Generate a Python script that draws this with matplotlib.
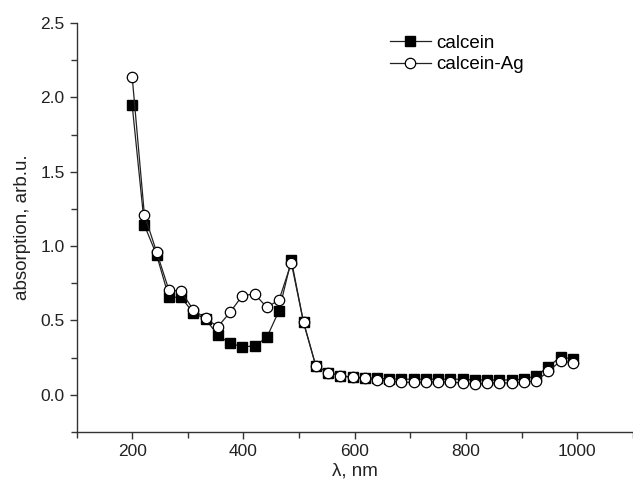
import matplotlib
matplotlib.use('Agg')
import matplotlib.pyplot as plt
from matplotlib.ticker import MultipleLocator

plt.rcParams['font.family'] = ['Liberation Sans', 'DejaVu Sans']

wavelength = [200, 222, 244, 266, 288, 310, 332, 354, 376, 398, 420, 442, 464, 486,
              508, 530, 552, 574, 596, 618, 640, 662, 684, 706, 728, 750, 772, 794,
              816, 838, 860, 882, 904, 926, 948, 970, 992]

calcein = [1.95, 1.14, 0.94, 0.656, 0.656, 0.55, 0.51, 0.40, 0.346, 0.323, 0.328, 0.386,
           0.566, 0.907, 0.487, 0.195, 0.15, 0.128, 0.12, 0.115, 0.11, 0.108, 0.105,
           0.105, 0.105, 0.105, 0.105, 0.105, 0.10, 0.10, 0.10, 0.10, 0.105, 0.128,
           0.189, 0.256, 0.24]

calcein_ag = [2.14, 1.21, 0.96, 0.705, 0.696, 0.571, 0.514, 0.458, 0.555, 0.667, 0.678,
              0.588, 0.638, 0.887, 0.487, 0.195, 0.15, 0.128, 0.117, 0.11, 0.10, 0.094,
              0.085, 0.083, 0.085, 0.088, 0.085, 0.08, 0.072, 0.078, 0.08, 0.08, 0.085,
              0.094, 0.157, 0.229, 0.214]

fig = plt.figure(figsize=(6.33, 4.86), dpi=100)
ax = fig.add_axes([76.5 / 633, (486 - 432) / 486, (633 - 76.5) / 633, (432 - 23) / 486])

ax.plot(wavelength, calcein, color='#222222', lw=0.9, marker='s', ms=6.5,
        mfc='black', mec='black', label='calcein')
ax.plot(wavelength, calcein_ag, color='#222222', lw=0.9, marker='o', ms=7.5,
        mfc='white', mec='black', mew=0.9, label='calcein-Ag')

ax.set_xlim(100, 1100)
ax.set_ylim(-0.25, 2.5)
ax.xaxis.set_major_locator(MultipleLocator(200))
ax.xaxis.set_minor_locator(MultipleLocator(100))
ax.yaxis.set_major_locator(MultipleLocator(0.5))
ax.yaxis.set_minor_locator(MultipleLocator(0.25))
ax.yaxis.set_major_formatter(plt.FuncFormatter(lambda v, p: f'{v:.1f}'))

for s in ['top', 'right']:
    ax.spines[s].set_visible(False)
for s in ['left', 'bottom']:
    ax.spines[s].set_linewidth(1.0)
    ax.spines[s].set_color('#333333')
ax.tick_params(which='major', direction='out', length=5, width=1, labelsize=12.5, colors='#333333')
ax.tick_params(which='minor', direction='out', length=4.5, width=1, colors='#333333')
ax.tick_params(labelcolor='#222222')

ax.set_xlabel('λ, nm', fontsize=13.5, color='#222222', labelpad=3)
ax.set_ylabel('absorption, arb.u.', fontsize=13.5, color='#222222', labelpad=7)

ax.legend(loc='upper left', bbox_to_anchor=((382 - 76.5) / (633 - 76.5), 1 - (27 - 23) / 409),
          frameon=False, fontsize=13.5, handlelength=2.2, handletextpad=0.3,
          labelspacing=0.25, borderaxespad=0)

fig.savefig('out.png', dpi=100)
